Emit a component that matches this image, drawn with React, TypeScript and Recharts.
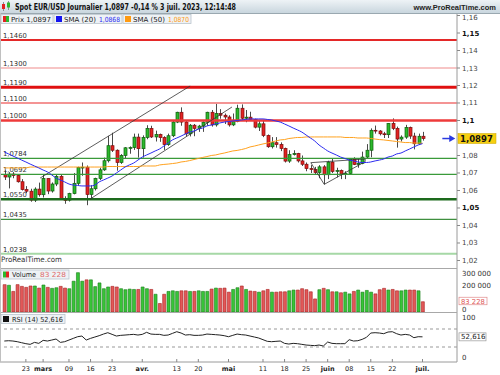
import { ComposedChart, Bar, Line, XAxis, YAxis, ReferenceLine, Cell } from 'recharts'

// trading days, 16 Feb -> 3 Jul 2023
const days = [
  '02-16', '02-17', '02-20', '02-21', '02-22', '02-23', '02-24', '02-27', '02-28',
  '03-01', '03-02', '03-03', '03-06', '03-07', '03-08', '03-09', '03-10', '03-13', '03-14', '03-15', '03-16', '03-17',
  '03-20', '03-21', '03-22', '03-23', '03-24', '03-27', '03-28', '03-29', '03-30', '03-31',
  '04-03', '04-04', '04-05', '04-06', '04-07', '04-10', '04-11', '04-12', '04-13', '04-14', '04-17', '04-18', '04-19',
  '04-20', '04-21', '04-24', '04-25', '04-26', '04-27', '04-28',
  '05-01', '05-02', '05-03', '05-04', '05-05', '05-08', '05-09', '05-10', '05-11', '05-12', '05-15', '05-16', '05-17',
  '05-18', '05-19', '05-22', '05-23', '05-24', '05-25', '05-26', '05-29', '05-30', '05-31',
  '06-01', '06-02', '06-05', '06-06', '06-07', '06-08', '06-09', '06-12', '06-13', '06-14', '06-15', '06-16', '06-19',
  '06-20', '06-21', '06-22', '06-23', '06-26', '06-27', '06-28', '06-29', '06-30', '07-03',
]

const opens = [
  1.0690, 1.0677, 1.0694, 1.0686, 1.0650, 1.0605, 1.0596, 1.0545, 1.0608, 1.0576,
  1.0668, 1.0597, 1.0637, 1.0681, 1.0548, 1.0545, 1.0582, 1.0641, 1.0732, 1.0733,
  1.0577, 1.0610, 1.0669, 1.0718, 1.0770, 1.0856, 1.0830, 1.0760, 1.0800, 1.0844,
  1.0845, 1.0905, 1.0839, 1.0903, 1.0955, 1.0906, 1.0920, 1.0902, 1.0862, 1.0913,
  1.0991, 1.1047, 1.0991, 1.0924, 1.0973, 1.0955, 1.0968, 1.0990, 1.1047, 1.0975,
  1.1040, 1.1030, 1.1020, 1.0975, 1.0995, 1.1070, 1.1013, 1.1019, 1.1006, 1.0962,
  1.0981, 1.0914, 1.0850, 1.0873, 1.0863, 1.0840, 1.0768, 1.0805, 1.0811, 1.0769,
  1.0750, 1.0725, 1.0720, 1.0703, 1.0735, 1.0690, 1.0762, 1.0709, 1.0714, 1.0694,
  1.0697, 1.0780, 1.0749, 1.0755, 1.0791, 1.0830, 1.0944, 1.0940, 1.0924, 1.0919,
  1.0983, 1.0955, 1.0894, 1.0905, 1.0960, 1.0911, 1.0867, 1.0910,
]
const highs = [
  1.0715, 1.0705, 1.0705, 1.0693, 1.0665, 1.0625, 1.0610, 1.0618, 1.0645, 1.0691,
  1.0670, 1.0646, 1.0694, 1.0694, 1.0567, 1.0587, 1.0700, 1.0736, 1.0760, 1.0743,
  1.0630, 1.0673, 1.0730, 1.0788, 1.0912, 1.0930, 1.0835, 1.0808, 1.0848, 1.0852,
  1.0925, 1.0925, 1.0915, 1.0973, 1.0970, 1.0942, 1.0925, 1.0910, 1.0925, 1.0998,
  1.1050, 1.1075, 1.0999, 1.0980, 1.0980, 1.0975, 1.0995, 1.1050, 1.1060, 1.1095,
  1.1065, 1.1040, 1.1030, 1.1040, 1.1090, 1.1092, 1.1060, 1.1050, 1.1010, 1.1000,
  1.1000, 1.0920, 1.0905, 1.0905, 1.0875, 1.0845, 1.0830, 1.0830, 1.0815, 1.0800,
  1.0760, 1.0745, 1.0735, 1.0745, 1.0745, 1.0770, 1.0780, 1.0730, 1.0720, 1.0710,
  1.0785, 1.0790, 1.0785, 1.0822, 1.0865, 1.0955, 1.0971, 1.0945, 1.0935, 1.0985,
  1.1012, 1.0965, 1.0915, 1.0975, 1.0965, 1.0930, 1.0925, 1.0935,
]
const lows = [
  1.0660, 1.0612, 1.0670, 1.0645, 1.0600, 1.0585, 1.0536, 1.0534, 1.0565, 1.0560,
  1.0579, 1.0588, 1.0625, 1.0546, 1.0524, 1.0537, 1.0578, 1.0631, 1.0684, 1.0516,
  1.0551, 1.0600, 1.0660, 1.0712, 1.0760, 1.0820, 1.0713, 1.0752, 1.0785, 1.0810,
  1.0832, 1.0788, 1.0788, 1.0893, 1.0900, 1.0880, 1.0878, 1.0832, 1.0855, 1.0905,
  1.0985, 1.0970, 1.0910, 1.0909, 1.0910, 1.0935, 1.0935, 1.0970, 1.0965, 1.0965,
  1.1010, 1.0980, 1.0965, 1.0968, 1.0990, 1.1000, 1.0990, 1.1000, 1.0955, 1.0940,
  1.0905, 1.0844, 1.0840, 1.0845, 1.0825, 1.0760, 1.0758, 1.0800, 1.0760, 1.0740,
  1.0710, 1.0700, 1.0690, 1.0670, 1.0635, 1.0665, 1.0700, 1.0675, 1.0665, 1.0665,
  1.0690, 1.0745, 1.0730, 1.0750, 1.0780, 1.0790, 1.0925, 1.0915, 1.0900, 1.0900,
  1.0945, 1.0845, 1.0880, 1.0895, 1.0895, 1.0835, 1.0860, 1.0885,
]
const closes = [
  1.0677, 1.0694, 1.0686, 1.0650, 1.0605, 1.0596, 1.0545, 1.0608, 1.0576, 1.0668,
  1.0597, 1.0637, 1.0681, 1.0548, 1.0545, 1.0582, 1.0641, 1.0732, 1.0733, 1.0577,
  1.0610, 1.0669, 1.0718, 1.0770, 1.0856, 1.0830, 1.0760, 1.0800, 1.0844, 1.0845,
  1.0905, 1.0839, 1.0903, 1.0955, 1.0906, 1.0920, 1.0902, 1.0862, 1.0913, 1.0991,
  1.1047, 1.0991, 1.0924, 1.0973, 1.0955, 1.0968, 1.0990, 1.1047, 1.0975, 1.1040,
  1.1030, 1.1020, 1.0975, 1.0995, 1.1070, 1.1013, 1.1019, 1.1006, 1.0962, 1.0981,
  1.0914, 1.0850, 1.0873, 1.0863, 1.0840, 1.0768, 1.0805, 1.0811, 1.0769, 1.0750,
  1.0725, 1.0720, 1.0703, 1.0735, 1.0690, 1.0762, 1.0709, 1.0714, 1.0694, 1.0697,
  1.0780, 1.0749, 1.0755, 1.0791, 1.0830, 1.0944, 1.0940, 1.0924, 1.0919, 1.0983,
  1.0955, 1.0894, 1.0905, 1.0960, 1.0911, 1.0867, 1.0910, 1.0897,
]
const sma20 = [
  1.0820, 1.0809, 1.0797, 1.0786, 1.0774, 1.0763, 1.0751, 1.0740, 1.0729, 1.0717,
  1.0706, 1.0689, 1.0671, 1.0660, 1.0649, 1.0637, 1.0631, 1.0629, 1.0626, 1.0626,
  1.0626, 1.0631, 1.0649, 1.0660, 1.0671, 1.0683, 1.0700, 1.0717, 1.0734, 1.0746,
  1.0757, 1.0774, 1.0791, 1.0803, 1.0814, 1.0826, 1.0837, 1.0854, 1.0871, 1.0889,
  1.0900, 1.0911, 1.0923, 1.0934, 1.0940, 1.0951, 1.0957, 1.0969, 1.0974, 1.0980,
  1.0986, 1.0991, 1.0994, 1.0997, 1.1000, 1.1003, 1.1006, 1.1009, 1.1009, 1.1009,
  1.1009, 1.1006, 1.1003, 1.0997, 1.0991, 1.0980, 1.0969, 1.0957, 1.0946, 1.0934,
  1.0917, 1.0900, 1.0883, 1.0860, 1.0843, 1.0826, 1.0814, 1.0803, 1.0791, 1.0783,
  1.0774, 1.0769, 1.0763, 1.0760, 1.0760, 1.0763, 1.0769, 1.0774, 1.0780, 1.0791,
  1.0797, 1.0809, 1.0814, 1.0826, 1.0837, 1.0849, 1.0860, 1.0868,
]
const sma50 = [
  1.0729, 1.0729, 1.0729, 1.0729, 1.0729, 1.0729, 1.0734, 1.0734, 1.0734, 1.0734,
  1.0734, 1.0734, 1.0734, 1.0734, 1.0734, 1.0734, 1.0734, 1.0734, 1.0734, 1.0734,
  1.0734, 1.0734, 1.0734, 1.0734, 1.0737, 1.0737, 1.0737, 1.0737, 1.0737, 1.0737,
  1.0737, 1.0737, 1.0740, 1.0740, 1.0740, 1.0740, 1.0746, 1.0749, 1.0751, 1.0754,
  1.0757, 1.0763, 1.0766, 1.0771, 1.0777, 1.0783, 1.0789, 1.0794, 1.0800, 1.0803,
  1.0809, 1.0814, 1.0820, 1.0826, 1.0829, 1.0834, 1.0840, 1.0849, 1.0854, 1.0860,
  1.0866, 1.0871, 1.0877, 1.0883, 1.0889, 1.0891, 1.0897, 1.0900, 1.0903, 1.0903,
  1.0906, 1.0906, 1.0906, 1.0906, 1.0906, 1.0906, 1.0906, 1.0906, 1.0906, 1.0903,
  1.0903, 1.0903, 1.0900, 1.0900, 1.0900, 1.0897, 1.0894, 1.0891, 1.0889, 1.0886,
  1.0883, 1.0880, 1.0877, 1.0874, 1.0874, 1.0871, 1.0871, 1.0870,
]
const volumes = [
  222000, 217000, 167000, 222000, 208000, 200000, 211000, 211000, 194000, 219000,
  200000, 192000, 197000, 208000, 194000, 189000, 250000, 319000, 250000, 261000,
  261000, 206000, 236000, 189000, 203000, 208000, 203000, 189000, 181000, 186000,
  183000, 183000, 203000, 189000, 183000, 144000, 69000, 144000, 167000, 172000,
  167000, 172000, 172000, 167000, 167000, 172000, 167000, 167000, 186000, 194000,
  192000, 194000, 161000, 183000, 197000, 211000, 183000, 170000, 167000, 161000,
  172000, 183000, 161000, 161000, 164000, 164000, 172000, 178000, 178000, 189000,
  181000, 164000, 106000, 181000, 192000, 181000, 164000, 164000, 156000, 161000,
  147000, 167000, 178000, 161000, 175000, 161000, 147000, 181000, 192000, 178000,
  183000, 172000, 172000, 178000, 178000, 178000, 172000, 83228,
]
const rsi = [
  43.3, 44.0, 43.3, 41.8, 39.6, 37.4, 35.9, 40.3, 38.1, 44.8,
  43.3, 45.5, 47.8, 40.3, 41.8, 45.5, 49.2, 52.9, 54.4, 45.5,
  49.2, 52.2, 55.2, 58.8, 61.8, 58.1, 54.4, 55.9, 56.6, 57.4,
  58.1, 56.6, 58.1, 62.6, 58.8, 58.1, 58.1, 55.9, 56.6, 60.3,
  64.0, 61.1, 56.6, 57.4, 55.9, 55.9, 56.6, 58.8, 58.1, 57.4,
  56.6, 55.2, 52.9, 55.9, 58.8, 57.4, 56.6, 54.4, 52.2, 50.0,
  46.3, 42.6, 41.8, 42.6, 43.3, 38.1, 36.6, 38.1, 37.4, 35.9,
  34.4, 33.7, 33.0, 34.4, 32.2, 41.1, 38.1, 37.4, 37.4, 37.4,
  46.3, 43.3, 44.0, 47.0, 51.5, 61.1, 61.8, 61.1, 59.6, 63.3,
  64.0, 59.6, 56.6, 58.1, 56.6, 50.7, 52.9, 52.616,
]

// x-axis labels (index into days)
const xTickIdx = [5, 9, 15, 20, 25, 32, 40, 45, 52, 60, 65, 70, 75, 80, 85, 90, 97]
const xTickText = ['23', 'mars', '09', '16', '23', 'avr.', '13', '20', 'mai', '11', '18', '25', 'juin', '08', '15', '22', 'juil.']

const priceTicks = [1.02, 1.03, 1.04, 1.05, 1.06, 1.07, 1.08, 1.1, 1.11, 1.12, 1.13, 1.14, 1.15, 1.16]
const boldPrices = [1.05, 1.1, 1.15]
const volumeTicks = [0, 200000, 300000]
const rsiTicks = [0, 100]

const levels = [
  { value: 1.146, label: '1,1460', color: '#e42828', width: 2 },
  { value: 1.13, label: '1,1300', color: '#f08c8c', width: 1.2 },
  { value: 1.119, label: '1,1190', color: '#e01010', width: 3 },
  { value: 1.11, label: '1,1100', color: '#f07070', width: 1.5 },
  { value: 1.1, label: '1,1000', color: '#ee3a3a', width: 2.5 },
  { value: 1.0784, label: '1,0784', color: '#3a9a3a', width: 1.3 },
  { value: 1.0692, label: '1,0692', color: '#3a9a3a', width: 1.3 },
  { value: 1.055, label: '1,0550', color: '#1d6a1d', width: 2.5 },
  { value: 1.0435, label: '1,0435', color: '#3f8f3f', width: 1.2 },
  { value: 1.0238, label: '1,0238', color: '#a6d8a6', width: 2 },
]

// drawn trend lines [index, price]
const trendLines = [
  [[8.3, 1.0671], [43.1, 1.1197]],
  [[19.9, 1.0551], [52.8, 1.1077]],
  [[71.1, 1.0759], [83.7, 1.0780]],
  [[71.1, 1.0759], [74.2, 1.0635]],
  [[74.2, 1.0635], [83.7, 1.0765]],
  [[83.7, 1.0780], [83.7, 1.0765]],
]

const lastClose = closes[closes.length - 1]
const lastVolume = volumes[volumes.length - 1]
const lastRsi = rsi[rsi.length - 1]

const data = days.map((d, i) => ({
  i,
  day: d,
  open: opens[i],
  high: highs[i],
  low: lows[i],
  close: closes[i],
  range: [lows[i], highs[i]],
  sma20: sma20[i],
  sma50: sma50[i],
  volume: volumes[i],
  rsi: rsi[i],
}))

const FONT = 'DejaVu Sans'
const X_DOMAIN: [number, number] = [-1, 105]
const W = 500
const AXIS_W = 43

const comma = (v: number) => String(v).replace('.', ',')
const spaced = (v: number) => String(v).replace(/\B(?=(\d{3})+(?!\d))/g, ' ')

function Candle(props: any) {
  const { x, y, width, height, payload } = props
  const top = Math.min(y, y + height)
  const h = Math.abs(height)
  const span = payload.high - payload.low
  const py = (p: number) => top + ((payload.high - p) / span) * h
  const up = payload.close >= payload.open
  const cx = Math.round(x + width / 2) + 0.5
  const bTop = py(Math.max(payload.open, payload.close))
  const bBot = py(Math.min(payload.open, payload.close))
  return (
    <g>
      <line x1={cx} x2={cx} y1={top} y2={top + h} stroke="#4a4a4a" strokeWidth={1} />
      <rect
        x={cx - 1.5}
        y={bTop}
        width={3}
        height={Math.max(bBot - bTop, 0.8)}
        fill={up ? '#2cb82c' : '#e22222'}
        stroke={up ? '#0d5c0d' : '#7d0c0c'}
        strokeWidth={0.7}
      />
    </g>
  )
}

function PriceTick({ x, y, payload }: any) {
  const v = payload.value
  if (v === lastClose) {
    return (
      <g>
        <rect x={x + 1} y={y - 5} width={38} height={10} fill="#f6cf10" stroke="#c7a200" strokeWidth={0.5} />
        <text x={x + 3} y={y + 3} fontSize={8.5} fontWeight="bold" fill="#111" fontFamily={FONT}>
          {comma(v)}
        </text>
      </g>
    )
  }
  const bold = boldPrices.includes(v)
  // top label sits a little lower so the header does not cover it
  const dy = v === 1.16 ? 4 : 2.5
  return (
    <g>
      <line x1={x} x2={x + 3} y1={y} y2={y} stroke="#888" />
      <text x={x + 5} y={y + dy} fontSize={7} fontWeight={bold ? 'bold' : 'normal'} fill={bold ? '#111' : '#444'} fontFamily={FONT}>
        {comma(v)}
      </text>
    </g>
  )
}

function VolumeTick({ x, y, payload }: any) {
  const v = payload.value
  if (v === lastVolume) {
    return (
      <g>
        <rect x={x + 2} y={y - 4.5} width={28} height={7.5} fill="#fff" stroke="#e08a8a" strokeWidth={0.7} />
        <text x={x + 4} y={y + 1.8} fontSize={6.8} fill="#e05a5a" fontFamily={FONT}>
          {spaced(v)}
        </text>
      </g>
    )
  }
  return (
    <text x={x + 5} y={y + (v === 0 ? -0.5 : 1)} fontSize={7} fill="#333" fontFamily={FONT}>
      {spaced(v)}
    </text>
  )
}

function RsiTick({ x, y, payload }: any) {
  const v = payload.value
  if (v === lastRsi) {
    return (
      <g>
        <rect x={x + 2} y={y - 4} width={27} height={8} fill="#fff" stroke="#999" strokeWidth={0.7} />
        <text x={x + 4} y={y + 2.5} fontSize={7} fill="#222" fontFamily={FONT}>
          {comma(v)}
        </text>
      </g>
    )
  }
  return (
    <text x={x + 5} y={y + (v === 0 ? -1 : 4)} fontSize={7} fill="#333" fontFamily={FONT}>
      {v}
    </text>
  )
}

function DateTick({ x, y, payload }: any) {
  const label = xTickText[xTickIdx.indexOf(payload.value)]
  const month = isNaN(Number(label))
  return (
    <g>
      <line x1={x} x2={x} y1={y - 3} y2={y} stroke="#888" />
      <text x={x} y={y + 9} textAnchor="middle" fontSize={6.5} fontWeight={month ? 'bold' : 'normal'} fill="#222" fontFamily={FONT}>
        {label}
      </text>
    </g>
  )
}

function LevelLabel({ viewBox, text }: any) {
  return (
    <text x={viewBox.x + 3} y={viewBox.y - 2} fontSize={6.8} fill="#333" fontFamily={FONT}>
      {text}
    </text>
  )
}

function Arrow({ x1, y1, x2, y2 }: any) {
  return (
    <g>
      <line x1={x1} y1={y1} x2={x2 - 4} y2={y2} stroke="#2a3ae0" strokeWidth={1.5} />
      <polygon points={`${x2},${y2} ${x2 - 6},${y2 - 3.5} ${x2 - 6},${y2 + 3.5}`} fill="#2a3ae0" />
    </g>
  )
}

function PriceChart() {
  return (
    <ComposedChart width={W} height={255} data={data} margin={{ top: 0, right: 0, bottom: 0, left: 0 }}>
      <XAxis dataKey="i" type="number" domain={X_DOMAIN} allowDataOverflow hide />
      <YAxis
        orientation="right"
        width={AXIS_W}
        type="number"
        domain={[1.01571, 1.16143]}
        allowDataOverflow
        ticks={[...priceTicks, lastClose]}
        interval={0}
        tick={<PriceTick />}
        tickSize={0}
        tickMargin={0}
        tickLine={false}
        axisLine={{ stroke: '#9a9a9a' }}
      />
      {levels.map((l) => (
        <ReferenceLine
          key={l.label}
          y={l.value}
          stroke={l.color}
          strokeWidth={l.width}
          label={(p: any) => <LevelLabel {...p} text={l.label} />}
        />
      ))}
      {trendLines.map((t, k) => (
        <ReferenceLine
          key={k}
          segment={[{ x: t[0][0], y: t[0][1] }, { x: t[1][0], y: t[1][1] }]}
          stroke="#333"
          strokeWidth={0.8}
        />
      ))}
      <Line dataKey="sma50" type="monotone" stroke="#ffa21f" strokeWidth={1} dot={false} isAnimationActive={false} />
      <Line dataKey="sma20" type="monotone" stroke="#2c2cf0" strokeWidth={1} dot={false} isAnimationActive={false} />
      <Bar dataKey="range" barSize={3} shape={<Candle />} isAnimationActive={false} />
      <ReferenceLine
        segment={[{ x: 101.6, y: lastClose }, { x: 104.6, y: lastClose }]}
        shape={<Arrow />}
      />
    </ComposedChart>
  )
}

function VolumeChart() {
  return (
    <ComposedChart width={W} height={44} data={data} margin={{ top: 0, right: 0, bottom: 0, left: 0 }}>
      <XAxis dataKey="i" type="number" domain={X_DOMAIN} allowDataOverflow hide />
      <YAxis
        orientation="right"
        width={AXIS_W}
        type="number"
        domain={[0, 357000]}
        allowDataOverflow
        ticks={[...volumeTicks, lastVolume]}
        interval={0}
        tick={<VolumeTick />}
        tickSize={0}
        tickMargin={0}
        tickLine={false}
        axisLine={{ stroke: '#9a9a9a' }}
      />
      <Bar dataKey="volume" barSize={3} isAnimationActive={false}>
        {data.map((d) => (
          <Cell
            key={d.i}
            fill={d.close >= d.open ? '#38c438' : '#e25858'}
            stroke={d.close >= d.open ? '#1a7e1a' : '#a82020'}
            strokeWidth={0.6}
          />
        ))}
      </Bar>
    </ComposedChart>
  )
}

function RsiChart() {
  return (
    <ComposedChart width={W} height={63} data={data} margin={{ top: 0, right: 0, bottom: 0, left: 0 }}>
      <XAxis
        dataKey="i"
        type="number"
        domain={X_DOMAIN}
        allowDataOverflow
        ticks={xTickIdx}
        interval={0}
        height={13}
        tick={<DateTick />}
        tickSize={0}
        tickMargin={0}
        tickLine={false}
        axisLine={{ stroke: '#9a9a9a' }}
      />
      <YAxis
        orientation="right"
        width={AXIS_W}
        type="number"
        domain={[-3.3, 107.8]}
        allowDataOverflow
        ticks={[...rsiTicks, lastRsi]}
        interval={0}
        tick={<RsiTick />}
        tickSize={0}
        tickMargin={0}
        tickLine={false}
        axisLine={{ stroke: '#9a9a9a' }}
      />
      <ReferenceLine y={70} stroke="#999" strokeDasharray="3 3" />
      <ReferenceLine y={30} stroke="#999" strokeDasharray="3 3" />
      <Line dataKey="rsi" type="linear" stroke="#222" strokeWidth={1} dot={false} isAnimationActive={false} />
    </ComposedChart>
  )
}

function LegendBox({ x, y, w, children }: any) {
  return (
    <g>
      <rect x={x} y={y} width={w} height={9} fill="#eef2f5" stroke="#b9c4cc" strokeWidth={0.8} />
      {children}
    </g>
  )
}

function Overlay() {
  return (
    <svg width={W} height={375} style={{ position: 'absolute', left: 0, top: 0, pointerEvents: 'none' }} fontFamily={FONT}>
      <defs>
        <linearGradient id="hdr" x1="0" y1="0" x2="0" y2="1">
          <stop offset="0" stopColor="#eef3f6" />
          <stop offset="1" stopColor="#c9d6de" />
        </linearGradient>
      </defs>
      <rect x={0} y={0} width={W} height={13} fill="url(#hdr)" />
      <line x1={0} x2={W} y1={13.5} y2={13.5} stroke="#9aa8b0" />
      <line x1={3.5} x2={3.5} y1={2} y2={11} stroke="#555" strokeWidth={0.6} />
      <rect x={2} y={4} width={3} height={5} fill="#e22222" />
      <line x1={8.5} x2={8.5} y1={1} y2={10} stroke="#555" strokeWidth={0.6} />
      <rect x={7} y={2.5} width={3} height={5} fill="#2cb82c" />
      <text x={15} y={10} fontSize={8} fontWeight="bold" fill="#111" textLength={221} lengthAdjust="spacingAndGlyphs">
        Spot EUR/USD Journalier 1,0897 -0,14 % 3 juil. 2023, 12:14:48
      </text>
      <text x={496} y={10} textAnchor="end" fontSize={7.5} fontWeight="bold" fill="#222" fontFamily="Liberation Sans">
        www.ProRealTime.com
      </text>

      <LegendBox x={1} y={14.5} w={52}>
        <rect x={3} y={16} width={3} height={6} fill="#e22222" />
        <rect x={6} y={16} width={3} height={6} fill="#2cb82c" />
        <text x={11} y={21.8} fontSize={7} fill="#222" textLength={40} lengthAdjust="spacingAndGlyphs">Prix 1,0897</text>
      </LegendBox>
      <LegendBox x={54} y={14.5} w={68}>
        <rect x={56} y={16} width={6} height={6} fill="#1414f0" />
        <text x={64} y={21.8} fontSize={7} fill="#222" textLength={32} lengthAdjust="spacingAndGlyphs">SMA (20)</text>
        <text x={99} y={21.8} fontSize={7} fill="#2c2cf0" textLength={21} lengthAdjust="spacingAndGlyphs">1,0868</text>
      </LegendBox>
      <LegendBox x={123} y={14.5} w={68}>
        <rect x={125} y={16} width={6} height={6} fill="#ff9a10" />
        <text x={133} y={21.8} fontSize={7} fill="#222" textLength={32} lengthAdjust="spacingAndGlyphs">SMA (50)</text>
        <text x={168} y={21.8} fontSize={7} fill="#ff9a10" textLength={21} lengthAdjust="spacingAndGlyphs">1,0870</text>
      </LegendBox>

      <text x={1} y={262} fontSize={7.5} fill="#333" textLength={61} lengthAdjust="spacingAndGlyphs">ProRealTime.com</text>

      <line x1={0} x2={457} y1={268.5} y2={268.5} stroke="#a8a8a8" />
      <line x1={0} x2={457} y1={312.5} y2={312.5} stroke="#a8a8a8" />
      <line x1={0.5} x2={0.5} y1={13} y2={362} stroke="#c0c0c0" />

      <LegendBox x={1} y={270} w={68}>
        <rect x={3} y={271.5} width={3} height={6} fill="#2cb82c" />
        <rect x={6} y={271.5} width={3} height={6} fill="#e22222" />
        <text x={12} y={277.3} fontSize={7} fill="#222" textLength={24} lengthAdjust="spacingAndGlyphs">Volume</text>
        <text x={40} y={277.3} fontSize={7} fill="#e06a6a" textLength={26} lengthAdjust="spacingAndGlyphs">83 228</text>
      </LegendBox>
      <LegendBox x={1} y={314.5} w={64}>
        <rect x={3} y={316} width={6} height={6} fill="#111" />
        <text x={12} y={321.8} fontSize={7} fill="#222" textLength={51} lengthAdjust="spacingAndGlyphs">RSI (14) 52,616</text>
      </LegendBox>
    </svg>
  )
}

export default function App() {
  return (
    <div style={{ position: 'absolute', left: 0, top: 0, width: W, height: 375, background: '#fff', overflow: 'hidden', fontFamily: FONT }}>
      <div style={{ position: 'absolute', left: 0, top: 13 }}>
        <PriceChart />
      </div>
      <div style={{ position: 'absolute', left: 0, top: 268 }}>
        <VolumeChart />
      </div>
      <div style={{ position: 'absolute', left: 0, top: 312 }}>
        <RsiChart />
      </div>
      <Overlay />
    </div>
  )
}
